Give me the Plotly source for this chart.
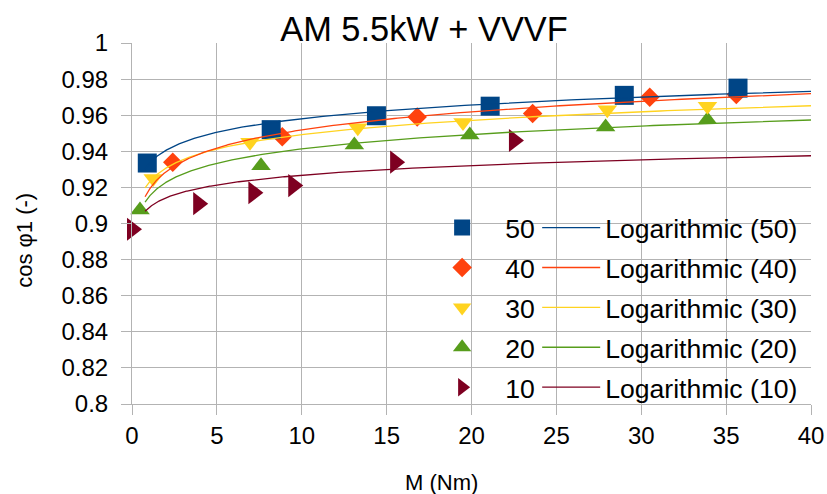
import numpy as np
import plotly.graph_objects as go

FONT = "Liberation Sans"

# ---- data ----
series_names = ["50", "40", "30", "20", "10"]
x50 = [0.9, 8.2, 14.4, 21.1, 29.0, 35.7]
y50 = [0.9335, 0.952, 0.9597, 0.965, 0.971, 0.975]
x40 = [2.4, 8.85, 16.8, 23.6, 30.5, 35.6]
y40 = [0.934, 0.948, 0.959, 0.961, 0.970, 0.9715]
x30 = [1.25, 6.95, 13.3, 19.5, 28.0, 33.9]
y30 = [0.925, 0.945, 0.953, 0.956, 0.963, 0.965]
x20 = [0.47, 7.6, 13.1, 19.9, 27.9, 33.9]
y20 = [0.9075, 0.932, 0.9435, 0.949, 0.9535, 0.9575]
x10 = [0.0, 3.9, 7.15, 9.5, 15.5, 22.5]
y10 = [0.8968, 0.911, 0.917, 0.921, 0.934, 0.946]

# logarithmic trend lines y = a + b*ln(x), coefficients
trend_a = [0.933, 0.9186, 0.9227, 0.9148, 0.9088]
trend_b = [0.0109, 0.01445, 0.01153, 0.01153, 0.00779]
trend_x_range = [0.77, 40]

y_tick_vals = [0.8, 0.82, 0.84, 0.86, 0.88, 0.9, 0.92, 0.94, 0.96, 0.98, 1.0]
y_tick_text = ["0.8", "0.82", "0.84", "0.86", "0.88", "0.9", "0.92", "0.94", "0.96", "0.98", "1"]

colors = ["#004586", "#ff420e", "#ffd320", "#579d1c", "#7e0021"]
symbols = ["square", "diamond", "triangle-down", "triangle-up", "triangle-right"]
sizes = [19, 15, 17, 17, 20]

xs = [x50, x40, x30, x20, x10]
ys = [y50, y40, y30, y20, y10]

fig = go.Figure()

draw_order = [4, 3, 2, 1, 0]
for i in draw_order:
    fig.add_trace(go.Scatter(
        x=xs[i], y=ys[i], mode="markers", name=series_names[i],
        marker=dict(symbol=symbols[i], size=sizes[i], color=colors[i], line=dict(width=0)),
        legend="legend", legendrank=i + 1, legendgroup="m" + series_names[i],
        cliponaxis=False,
    ))

tx = np.geomspace(trend_x_range[0], trend_x_range[1], 300)
for i in draw_order:
    fig.add_trace(go.Scatter(
        x=tx, y=trend_a[i] + trend_b[i] * np.log(tx), mode="lines",
        name="Logarithmic (" + series_names[i] + ")",
        line=dict(color=colors[i], width=1.3),
        legend="legend2", legendrank=i + 1, legendgroup="l" + series_names[i],
    ))

grid = "#b3b3b3"
leg_top = (404 - 204) / 360.7
fig.update_layout(
    width=827, height=494,
    margin=dict(l=132, r=16, t=43, b=90, autoexpand=False),
    paper_bgcolor="white", plot_bgcolor="white",
    font=dict(family=FONT, color="black"),
    title=dict(text="AM 5.5kW + VVVF", x=424 / 827, xref="container", xanchor="center",
               y=1 - 29 / 494, yref="container", yanchor="middle",
               font=dict(family=FONT, size=34.4, color="black")),
    xaxis=dict(range=[0, 40], dtick=5, tick0=0, showgrid=True, gridcolor=grid, gridwidth=1,
               zeroline=False, showline=True, linecolor=grid, ticks="outside", ticklen=10,
               tickcolor=grid, automargin=False,
               tickfont=dict(family=FONT, size=24, color="black")),
    yaxis=dict(range=[0.8, 1.0], tickvals=y_tick_vals, ticktext=y_tick_text, showgrid=True,
               gridcolor=grid, gridwidth=1, zeroline=False, showline=True, linecolor=grid,
               ticks="outside", ticklen=10, tickcolor=grid, ticklabelstandoff=8,
               automargin=False, tickfont=dict(family=FONT, size=24, color="black")),
    legend=dict(x=(419 - 132) / 678.7, y=leg_top, xanchor="left", yanchor="top",
                bgcolor="rgba(0,0,0,0)", font=dict(family=FONT, size=26.6, color="black"),
                traceorder="grouped", itemwidth=76, tracegroupgap=2.3),
    legend2=dict(x=(537 - 132) / 678.7, y=leg_top, xanchor="left", yanchor="top",
                 bgcolor="rgba(0,0,0,0)", font=dict(family=FONT, size=26.6, color="black"),
                 traceorder="grouped", itemwidth=58, tracegroupgap=2.3),
    showlegend=True,
    annotations=[
        dict(text="M (Nm)", xref="paper", yref="paper", x=(441 - 132) / 678.7,
             y=(404 - 482) / 360.7, xanchor="center", yanchor="middle", showarrow=False,
             font=dict(family=FONT, size=22, color="black")),
        dict(text="cos φ1 (-)", xref="paper", yref="paper", x=(25 - 132) / 678.7,
             y=(404 - 240) / 360.7, xanchor="center", yanchor="middle", showarrow=False,
             textangle=-90, font=dict(family=FONT, size=22, color="black")),
    ],
)

fig.write_html("out.html")
